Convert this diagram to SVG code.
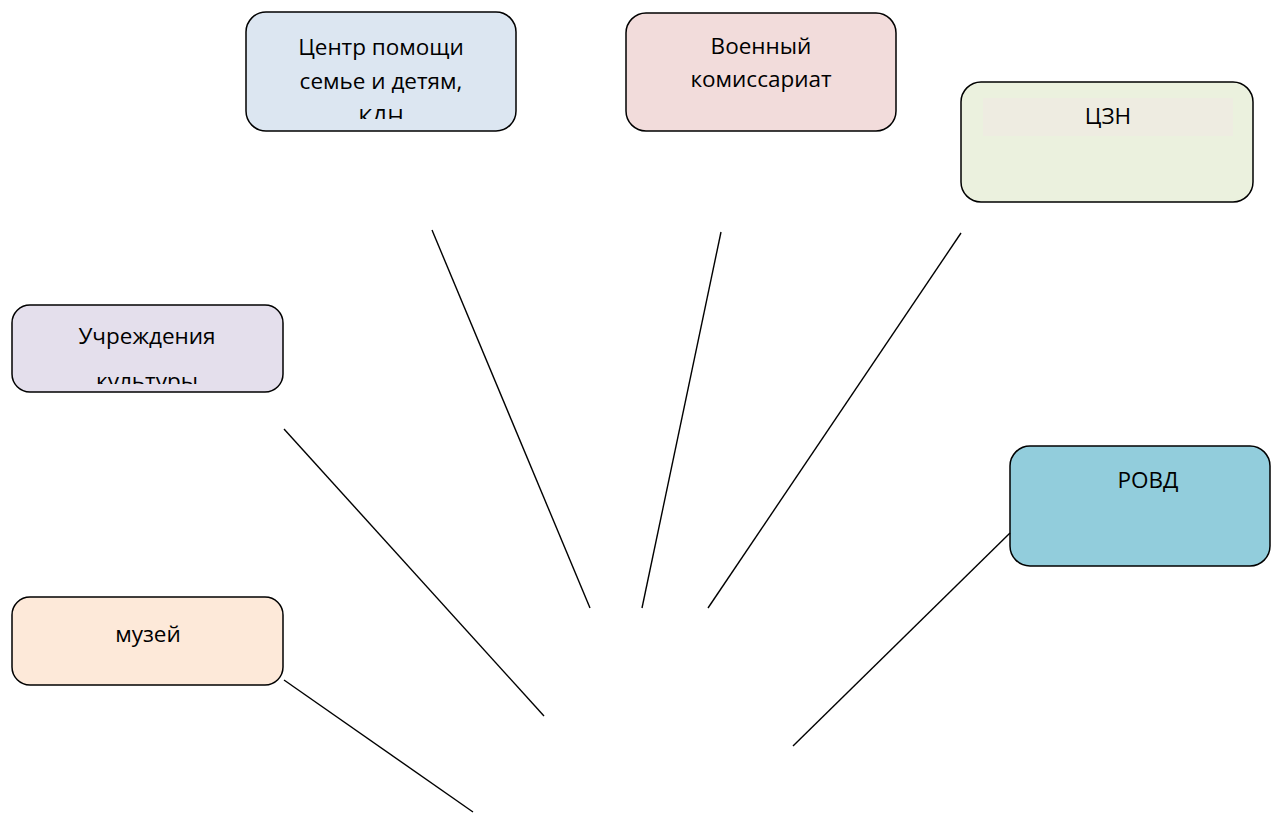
<svg xmlns="http://www.w3.org/2000/svg" width="1271" height="815" viewBox="0 0 1271 815">
<style>
.box{stroke:#000;stroke-width:1.5}
.t{font-family:"Open Sans","Noto Sans",sans-serif;font-size:22.5px;fill:#000;text-anchor:middle}
.c line{stroke:#000;stroke-width:1.4}
</style>
<defs>
<clipPath id="c1"><rect x="246" y="12" width="270" height="107"/></clipPath>
<clipPath id="c4"><rect x="12" y="305" width="271" height="79"/></clipPath>
</defs>
<rect width="1271" height="815" fill="#fff"/>
<g id="n1">
<rect class="box" x="246" y="12" width="270" height="119" rx="20" fill="#dce6f1"/>
<g clip-path="url(#c1)">
<text class="t" x="381" y="55">Центр помощи</text>
<text class="t" x="381" y="89">семье и детям,</text>
<text class="t" x="381" y="125">КДН</text>
</g>
</g>
<g id="n2">
<rect class="box" x="626" y="13" width="270" height="118" rx="20" fill="#f2dcdb"/>
<text class="t" x="761" y="54">Военный</text>
<text class="t" x="761" y="87">комиссариат</text>
</g>
<g id="n3">
<rect class="box" x="961" y="82" width="292" height="120" rx="20" fill="#ebf1de"/>
<rect x="983" y="98" width="250" height="38" fill="#eeece1"/>
<text class="t" x="1108" y="124">ЦЗН</text>
</g>
<g id="n4">
<rect class="box" x="12" y="305" width="271" height="87" rx="18" fill="#e4dfec"/>
<g clip-path="url(#c4)">
<text class="t" x="147" y="344">Учреждения</text>
<text class="t" x="147" y="389">культуры</text>
</g>
</g>
<g id="n5">
<rect class="box" x="12" y="597" width="271" height="88" rx="18" fill="#fde9d9"/>
<text class="t" x="148" y="642">музей</text>
</g>
<g id="n6">
<rect class="box" x="1010" y="446" width="260" height="120" rx="20" fill="#92cddc"/>
<text class="t" x="1148" y="488">РОВД</text>
</g>
<g class="c" id="connectors">
<line x1="432" y1="230" x2="590" y2="608"/>
<line x1="721" y1="232" x2="642" y2="608"/>
<line x1="961" y1="233" x2="708" y2="608"/>
<line x1="284" y1="429" x2="544" y2="716"/>
<line x1="1010" y1="533" x2="793" y2="746"/>
<line x1="284" y1="680" x2="473" y2="812"/>
</g>
</svg>
